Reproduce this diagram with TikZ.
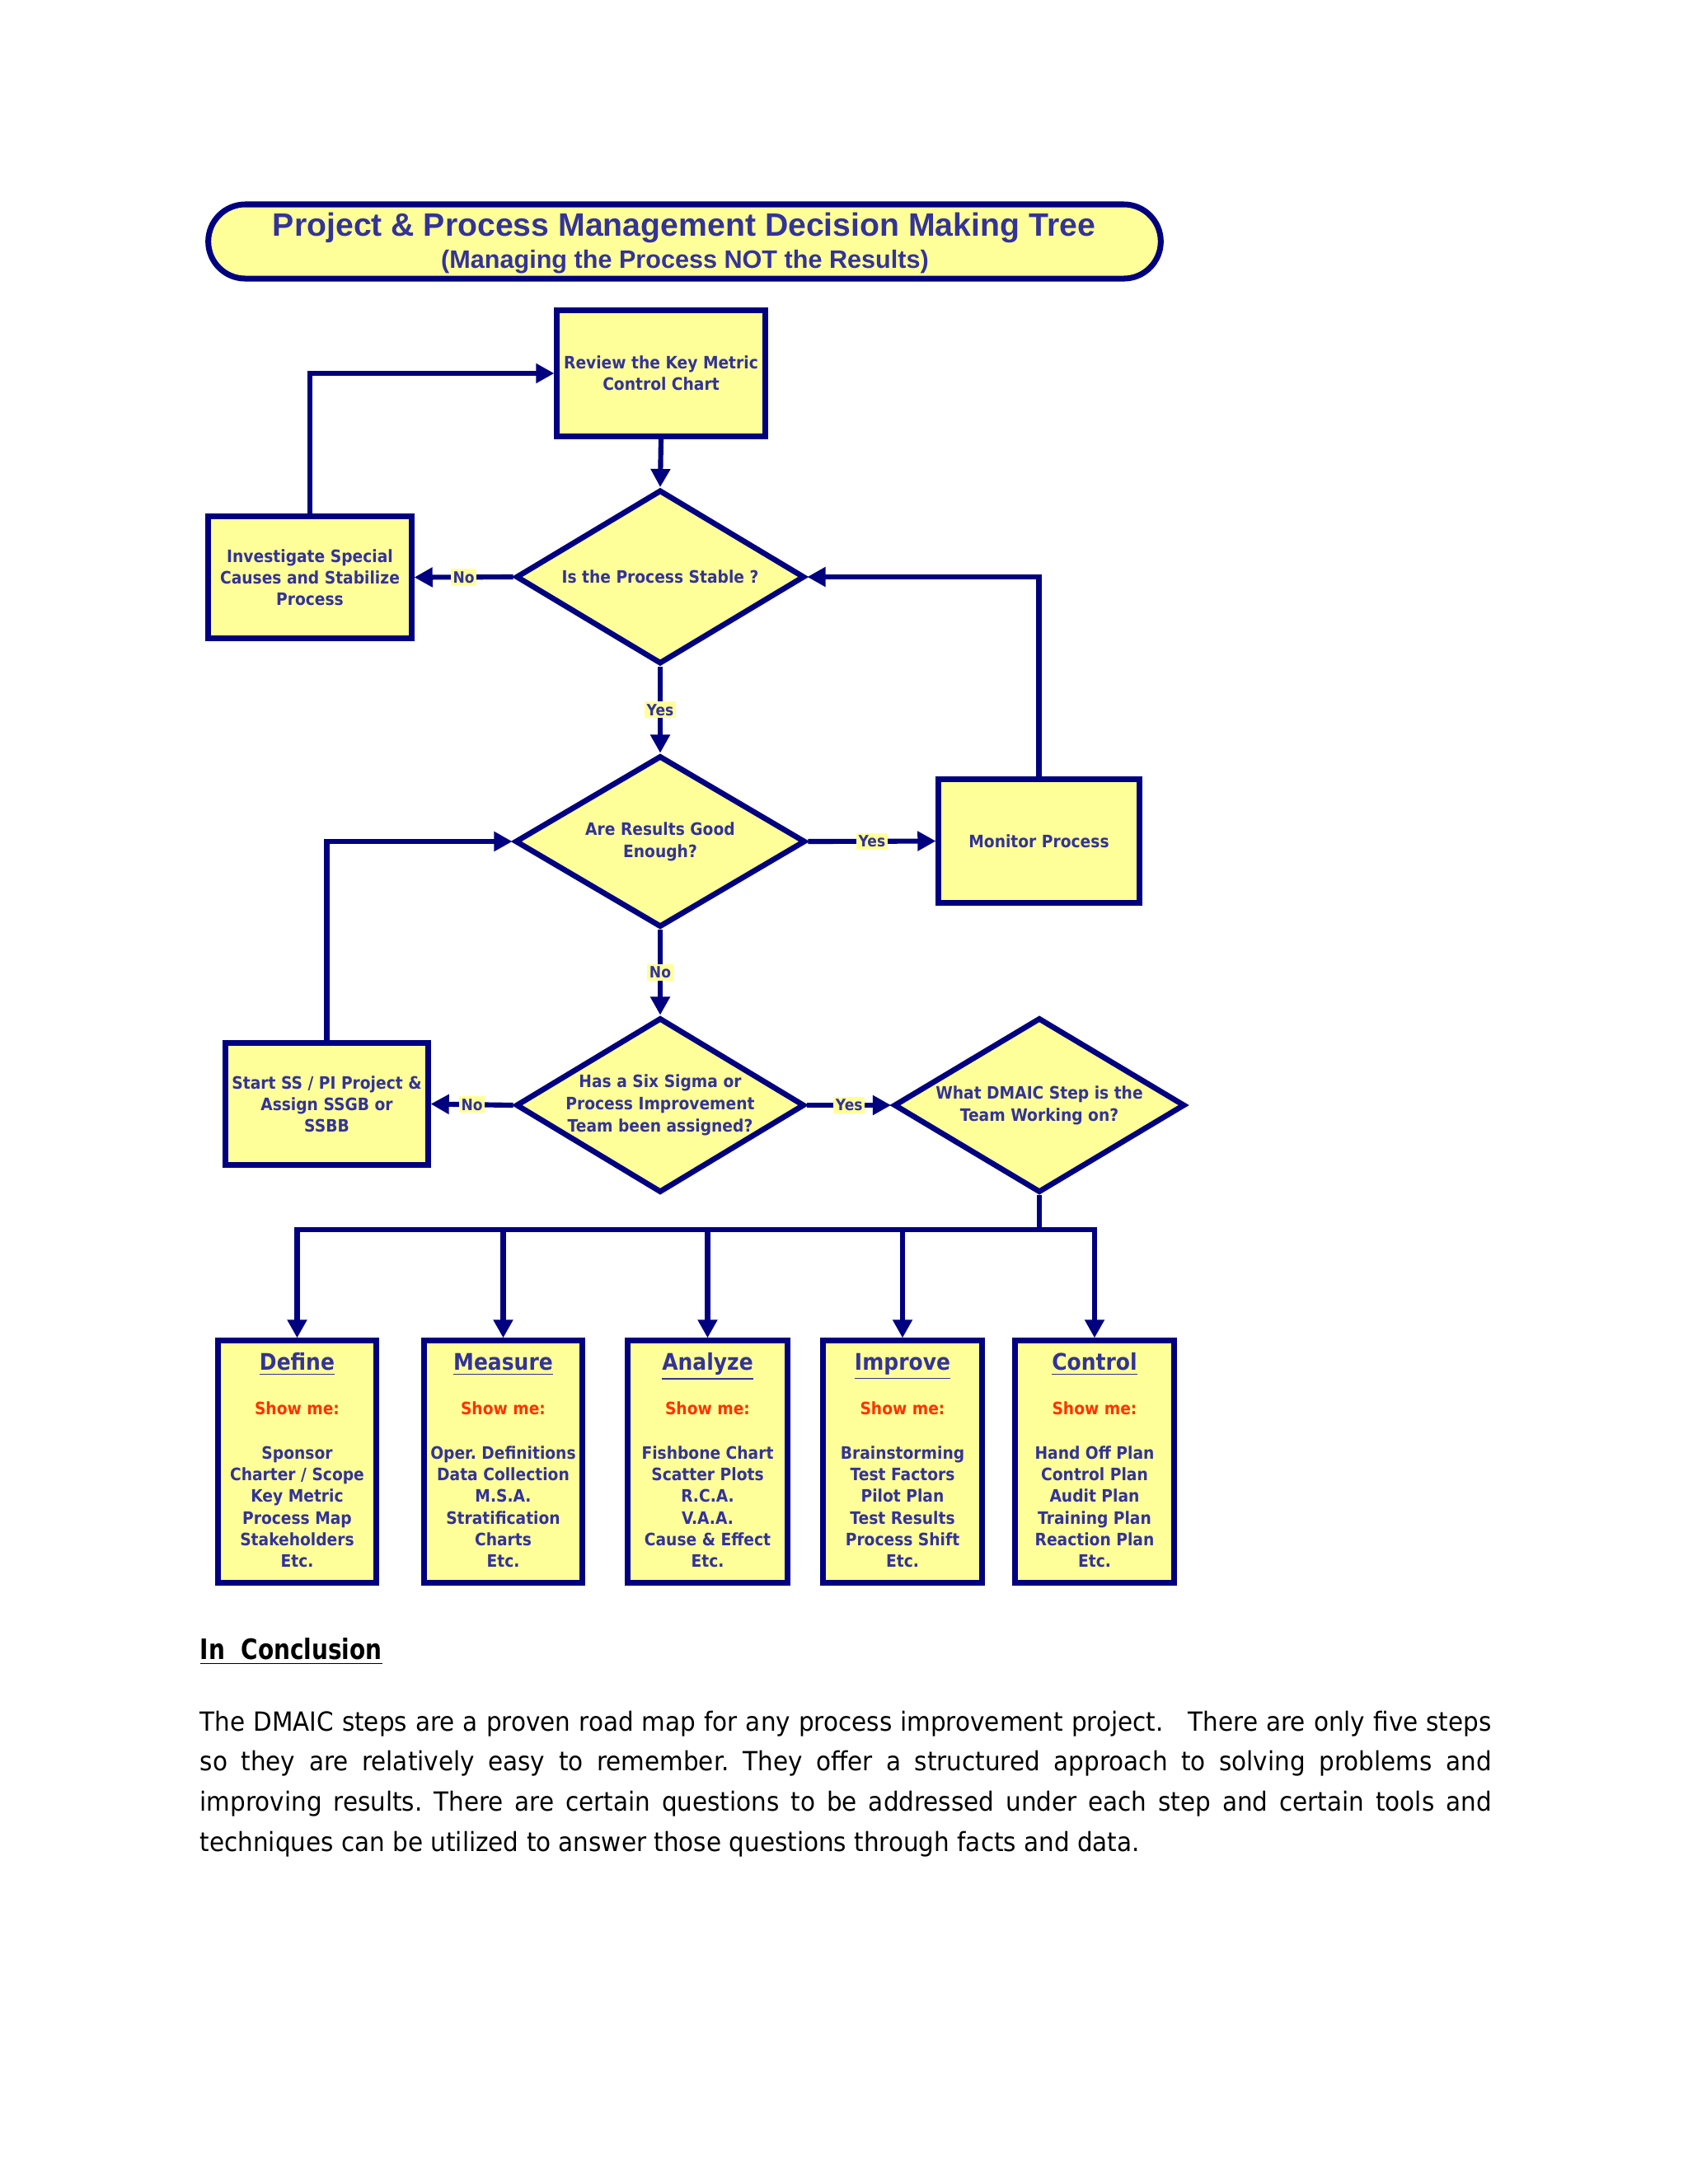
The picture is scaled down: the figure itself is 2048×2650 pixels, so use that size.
\documentclass[tikz,border=0pt]{standalone}
\usepackage{fontspec}
\usetikzlibrary{arrows.meta,shapes.geometric}
\newfontfamily\boxfont[FakeStretch=0.9]{DejaVu Sans Bold}
\newfontfamily\titlefont{Liberation Sans Bold}
\newfontfamily\bodyfont[FakeStretch=0.92]{DejaVu Sans}
\newfontfamily\concfont[FakeStretch=0.82]{DejaVu Sans Bold}
\definecolor{navy}{RGB}{0,0,128}
\definecolor{boxfill}{RGB}{255,255,153}
\definecolor{txt}{RGB}{51,51,153}
\definecolor{showred}{RGB}{255,51,0}
\tikzset{
  flowbox/.style={draw=navy, fill=boxfill, line width=2pt, rectangle, inner sep=0pt,
    align=center, text=txt, font=\boxfont\fontsize{5.9}{7.4}\selectfont},
  decision/.style={draw=navy, fill=boxfill, line width=1.9pt, diamond, inner sep=0pt},
  dtext/.style={text=txt, align=center, inner sep=0pt, font=\boxfont\fontsize{5.9}{7.6}\selectfont},
  conn/.style={draw=navy, line width=1.75pt},
  arr/.style={conn, -{Triangle[length=6.3pt,width=6.5pt]}},
  lbl/.style={fill=boxfill, text=txt, inner sep=0.8pt, font=\boxfont\fontsize{5.4}{6}\selectfont},
}
\newcommand\dmaicbox[5]{%
  \node[flowbox, minimum width=#3, minimum height=2.93cm] (#1) at (#2,1773.5) {};
  \node[anchor=base, text=txt, inner sep=0pt, font=\boxfont\fontsize{7.9}{9}\selectfont] (#1-t) at (#2,1662) {\underline{#4}};
  \node[anchor=base, text=showred, inner sep=0pt, font=\boxfont\fontsize{5.9}{7}\selectfont] (#1-s) at (#2,1716) {Show me:};
  \node[anchor=base, text=txt, inner sep=0pt] (#1-i) at (#2,1770) {\parbox[t]{1.9cm}{\centering\boxfont\fontsize{5.9}{7.5}\selectfont #5}};
}
\begin{document}
\frenchspacing
\begin{tikzpicture}[x=0.01cm, y=-0.01cm]
\useasboundingbox (0,0) rectangle (2048,2650);
\fill[white] (0,0) rectangle (2048,2650);

% title banner
\node[draw=navy, fill=boxfill, line width=2pt, minimum width=11.55cm, minimum height=0.9cm,
      rounded corners=0.45cm, inner sep=0pt] (banner) at (830.5,293) {};
\node[anchor=base, text=txt, inner sep=0pt, font=\titlefont\fontsize{11.15}{13}\selectfont] (ttl) at (830,286)
  {Project \& Process Management Decision Making Tree};
\node[anchor=base, text=txt, inner sep=0pt, font=\titlefont\fontsize{8.7}{10}\selectfont] (subttl) at (831,325)
  {(Managing the Process NOT the Results)};

% process boxes
\node[flowbox, minimum width=2.52cm, minimum height=1.52cm] (review) at (802,453) {Review the Key Metric\\Control Chart};
\node[flowbox, minimum width=2.46cm, minimum height=1.47cm] (inv) at (376,700.5) {Investigate Special\\Causes and Stabilize\\Process};
\node[flowbox, minimum width=2.43cm, minimum height=1.49cm] (mon) at (1260.5,1020.5) {Monitor Process};
\node[flowbox, minimum width=2.45cm, minimum height=1.47cm] (start) at (396.5,1339.5) {Start SS / PI Project \&\\Assign SSGB or\\SSBB};

% decisions
\node[decision, minimum width=3.5cm, minimum height=2.11cm] (d1) at (801,700) {};
\node[dtext] (d1t) at (d1.center) {Is the Process Stable ?};
\node[decision, minimum width=3.52cm, minimum height=2.08cm] (d2) at (801,1021) {};
\node[dtext] (d2t) at (d2.center) {Are Results Good\\Enough?};
\node[decision, minimum width=3.5cm, minimum height=2.12cm] (d3) at (801,1341) {};
\node[dtext] (d3t) at (d3.center) {Has a Six Sigma or\\Process Improvement\\Team been assigned?};
\node[decision, minimum width=3.53cm, minimum height=2.12cm] (d4) at (1261,1341) {};
\node[dtext] (d4t) at (d4.center) {What DMAIC Step is the\\Team Working on?};

% DMAIC boxes
\dmaicbox{define}{360.5}{1.91cm}{Define}{Sponsor\\Charter / Scope\\Key Metric\\Process Map\\Stakeholders\\Etc.}
\dmaicbox{measure}{610.5}{1.91cm}{Measure}{Oper. Definitions\\Data Collection\\M.S.A.\\Stratification\\Charts\\Etc.}
\dmaicbox{analyze}{858.5}{1.93cm}{Analyze}{Fishbone Chart\\Scatter Plots\\R.C.A.\\V.A.A.\\Cause \& Effect\\Etc.}
\dmaicbox{improve}{1095}{1.92cm}{Improve}{Brainstorming\\Test Factors\\Pilot Plan\\Test Results\\Process Shift\\Etc.}
\dmaicbox{control}{1328}{1.92cm}{Control}{Hand Off Plan\\Control Plan\\Audit Plan\\Training Plan\\Reaction Plan\\Etc.}

% connectors
\draw[arr] (review.south) -- (d1.north);
\draw[arr] (d1.west) -- node[lbl] (lno1) {No} (inv.east);
\draw[arr] (inv.north) |- (review.west);
\draw[arr] (d1.south) -- node[lbl] (lyes1) {Yes} (d2.north);
\draw[arr] (mon.north) |- (d1.east);
\draw[arr] (d2.east) -- node[lbl] (lyes2) {Yes} (mon.west);
\draw[arr] (d2.south) -- node[lbl] (lno2) {No} (d3.north);
\draw[arr] (d3.west) -- node[lbl] (lno3) {No} (start.east);
\draw[arr] (start.north) |- (d2.west);
\draw[arr] (d3.east) -- node[lbl] (lyes3) {Yes} (d4.west);

\coordinate (busL) at (360.5,1492);
\coordinate (busR) at (1328,1492);
\draw[conn] (d4.south) -- (d4.south |- busL);
\draw[conn, line cap=rect] (busL) -- (busR);
\foreach \n in {define,measure,analyze,improve,control}
  \draw[arr] (\n.north |- busL) -- (\n.north);

% conclusion
\node[anchor=base west, inner sep=0pt, font=\concfont\fontsize{9.7}{12}\selectfont] (conc) at (242,2013)
  {\underline{In\ \ Conclusion}};
\node[anchor=base west, inner sep=0pt] (para) at (242,2100) {\parbox[t]{15.66cm}{%
  \bodyfont\fontsize{9.1}{13.86}\selectfont\frenchspacing\parindent=0pt\tolerance=10000\hyphenpenalty=10000
  The DMAIC steps are a proven road map for any process improvement project.\ \ \ There are only five steps\linebreak
  so they are relatively easy to remember. They offer a structured approach to solving problems and\linebreak
  improving results. There are certain questions to be addressed under each step and certain tools and\linebreak
  techniques\ can be utilized to answer those questions through facts and data.}};
\end{tikzpicture}
\end{document}
